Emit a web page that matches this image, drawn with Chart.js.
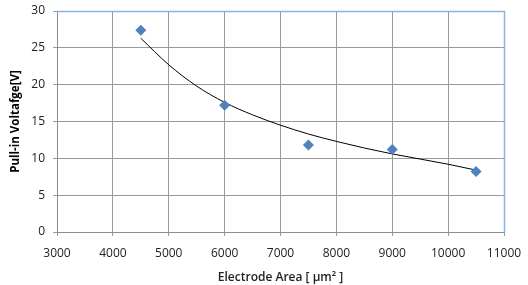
<!DOCTYPE html>
<html>
<head>
<meta charset="utf-8">
<script src="https://cdn.jsdelivr.net/npm/chart.js@4"></script>
<style>
  html, body { margin: 0; padding: 0; background: #fff; }
  #wrap { width: 528px; height: 285px; }
</style>
</head>
<body>
<div id="wrap"><canvas id="myChart"></canvas></div>
<script>
// measured points
var areaValues = [4500, 6000, 7500, 9000, 10500];
var voltValues = [27.4, 17.2, 11.8, 11.2, 8.2];

// trend line
var trendX = [4500, 5000, 5500, 6000, 6500, 7000, 7500, 8000, 8500, 9000, 9500, 10000, 10500];
var trendY = [26.3, 22.7, 19.8, 17.6, 15.9, 14.5, 13.3, 12.3, 11.4, 10.6, 9.9, 9.2, 8.4];

var xTicks = [3000, 4000, 5000, 6000, 7000, 8000, 9000, 10000, 11000];
var yTicks = [0, 5, 10, 15, 20, 25, 30];

function toPoints(xs, ys) {
  return xs.map(function (x, i) { return {x: x, y: ys[i]}; });
}

// blue frame on top and right, like the Excel plot area
var frame = {
  id: "frame",
  afterDraw: function (chart) {
    var a = chart.chartArea, ctx = chart.ctx;
    ctx.save();
    ctx.strokeStyle = "#8db3e2";
    ctx.lineWidth = 1.5;
    ctx.beginPath();
    ctx.moveTo(a.left, a.top + 0.5);
    ctx.lineTo(a.right + 0.5, a.top + 0.5);
    ctx.lineTo(a.right + 0.5, a.bottom);
    ctx.stroke();
    ctx.restore();
  }
};

new Chart("myChart", {
  type: "scatter",
  data: {
    datasets: [{
      label: "trend",
      data: toPoints(trendX, trendY),
      showLine: true,
      borderColor: "#000",
      borderWidth: 1,
      pointRadius: 0,
      cubicInterpolationMode: "monotone",
      order: 2
    }, {
      label: "Pull-in",
      data: toPoints(areaValues, voltValues),
      pointStyle: "rectRot",
      pointRadius: 5.5,
      backgroundColor: "#4f81bd",
      borderColor: "#4f81bd",
      borderWidth: 0,
      order: 1
    }]
  },
  options: {
    responsive: true,
    maintainAspectRatio: false,
    animation: false,
    layout: {padding: {left: 5, right: 24, top: 11, bottom: 0}},
    plugins: {
      legend: {display: false},
      tooltip: {enabled: false}
    },
    scales: {
      x: {
        min: 3000, max: 11000,
        afterBuildTicks: function (s) { s.ticks = xTicks.map(function (v) { return {value: v}; }); },
        grid: {color: "#9a9a9a", tickLength: 4, drawTicks: true},
        border: {color: "#8c8c8c"},
        ticks: {color: "#222", font: {family: "Open Sans", size: 12}, padding: 10, maxRotation: 0,
                callback: function (v) { return String(v); }},
        title: {display: true, text: "Electrode Area [ \u03bcm\u00b2 ]", color: "#222",
                font: {family: "Open Sans", size: 12, weight: "600"}, padding: {top: 6, bottom: 0}},
        afterFit: function (s) { s.height = 53; s.paddingLeft = 0; s.paddingRight = 0; }
      },
      y: {
        min: 0, max: 30,
        afterBuildTicks: function (s) { s.ticks = yTicks.map(function (v) { return {value: v}; }); },
        grid: {color: "#9a9a9a", tickLength: 4},
        border: {color: "#8c8c8c"},
        ticks: {color: "#222", font: {family: "Open Sans", size: 12}, padding: 8,
                callback: function (v) { return String(v); }},
        title: {display: true, text: "Pull-in Voltafge[V]", color: "#000",
                font: {family: "Open Sans", size: 11.5, weight: "bold"}, padding: {bottom: 0}},
        afterFit: function (s) { s.width = 52; s.paddingTop = 0; s.paddingBottom = 0; }
      }
    }
  },
  plugins: [frame]
});
</script>
</body>
</html>
